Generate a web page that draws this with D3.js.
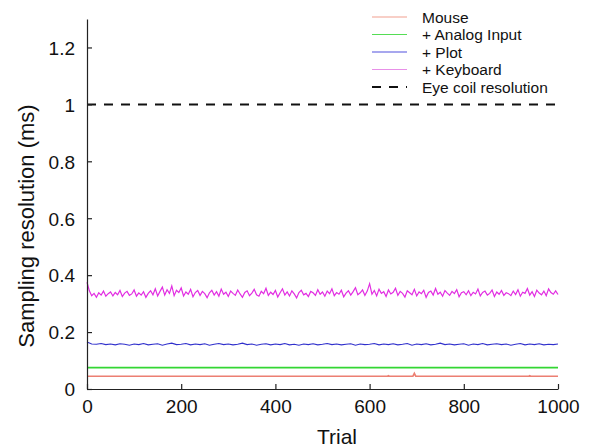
<!DOCTYPE html>
<html><head><meta charset="utf-8">
<script src="https://cdn.jsdelivr.net/npm/d3@7"></script>
<style>body{margin:0;background:#fff}svg{display:block}text{font-family:"Liberation Sans",Arial,sans-serif;fill:#111}</style>
</head><body><svg id="c" width="591" height="448"></svg>
<script>
// ---- data ----
const xTicks = [0, 200, 400, 600, 800, 1000];
const xTickLabels = ["0", "200", "400", "600", "800", "1000"];
const yTicks = [0, 0.2, 0.4, 0.6, 0.8, 1, 1.2];
const yTickLabels = ["0", "0.2", "0.4", "0.6", "0.8", "1", "1.2"];
const seriesNames = ["Mouse", "+ Analog Input", "+ Plot", "+ Keyboard", "Eye coil resolution"];
// Mouse: trial, value (flat with a few blips)
const mouseTrials = [0, 638, 640, 642, 692, 695, 698, 938, 940, 942, 1000];
const mouseValues = [0.045, 0.045, 0.047, 0.045, 0.045, 0.055, 0.045, 0.045, 0.047, 0.045, 0.045];
const analogTrials = [0, 1000];
const analogValues = [0.075, 0.075];
// Plot: every 10 trials
const plotValues = [0.165,0.158,0.157,0.160,0.156,0.158,0.155,0.159,0.157,0.154,0.158,0.156,0.160,0.155,0.157,0.159,0.154,0.158,0.161,0.156,
0.157,0.160,0.155,0.158,0.156,0.159,0.154,0.157,0.160,0.156,0.158,0.155,0.157,0.161,0.156,0.158,0.154,0.157,0.159,0.155,
0.158,0.156,0.160,0.155,0.157,0.154,0.158,0.156,0.159,0.155,0.157,0.160,0.156,0.158,0.155,0.157,0.159,0.154,0.158,0.156,
0.157,0.160,0.155,0.158,0.156,0.159,0.155,0.157,0.160,0.154,0.158,0.156,0.159,0.155,0.157,0.161,0.156,0.158,0.155,0.157,
0.159,0.154,0.158,0.156,0.160,0.155,0.157,0.159,0.156,0.158,0.154,0.157,0.160,0.155,0.158,0.156,0.159,0.155,0.157,0.156,0.158];
// Keyboard: every 5 trials (trial 0..1000)
const keyboardValues = [0.375,0.345,0.328,0.336,0.322,0.338,0.330,0.344,0.326,0.335,0.341,0.327,0.339,0.331,0.346,0.325,0.337,0.343,0.329,0.334,
0.348,0.326,0.338,0.330,0.342,0.322,0.336,0.345,0.331,0.352,0.327,0.343,0.358,0.330,0.349,0.336,0.362,0.328,0.347,0.339,
0.355,0.327,0.341,0.333,0.350,0.324,0.339,0.346,0.329,0.343,0.335,0.321,0.338,0.347,0.330,0.342,0.326,0.351,0.333,0.340,
0.325,0.344,0.336,0.329,0.348,0.334,0.322,0.339,0.345,0.328,0.337,0.350,0.331,0.326,0.343,0.335,0.354,0.329,0.340,0.332,
0.346,0.323,0.338,0.352,0.330,0.341,0.327,0.345,0.334,0.320,0.339,0.347,0.331,0.336,0.325,0.343,0.338,0.329,0.349,0.333,
0.341,0.326,0.344,0.335,0.352,0.328,0.339,0.333,0.347,0.324,0.337,0.345,0.330,0.342,0.356,0.331,0.338,0.348,0.329,0.344,
0.370,0.333,0.346,0.327,0.351,0.336,0.342,0.325,0.348,0.334,0.340,0.354,0.329,0.343,0.336,0.323,0.345,0.338,0.331,0.350,
0.327,0.341,0.335,0.347,0.322,0.339,0.344,0.330,0.353,0.333,0.340,0.326,0.346,0.337,0.329,0.343,0.335,0.349,0.324,0.338,
0.342,0.331,0.345,0.328,0.340,0.334,0.351,0.327,0.339,0.344,0.330,0.336,0.348,0.325,0.341,0.333,0.346,0.329,0.338,0.335,
0.328,0.344,0.332,0.349,0.326,0.340,0.336,0.353,0.330,0.342,0.325,0.347,0.337,0.331,0.344,0.328,0.352,0.339,0.333,0.345,0.332];
const eyeTrials = [0, 1000];
const eyeValues = [1, 1];
const colors = ["#ec7f72", "#33d633", "#3030cc", "#e22ee2", "#111"];
const legendColors = ["#f2a090", "#55dd55", "#5050dd", "#e890e8", "#111"];

// ---- chart ----
const svg = d3.select("#c");
const x = d3.scaleLinear().domain([0, 1000]).range([87, 558]);
const y = d3.scaleLinear().domain([0, 1.3]).range([389, 19]);

const line = d3.line().x(d => x(d[0])).y(d => y(d[1]));
const zip = (ts, vs) => ts.map((t, i) => [t, vs[i]]);
const plotData = plotValues.map((v, i) => [i * 10, v]);
const keyData = keyboardValues.map((v, i) => [i * 5, v]);

const g = svg.append("g");
g.append("path").datum(zip(mouseTrials, mouseValues)).attr("d", line)
  .attr("fill", "none").attr("stroke", colors[0]).attr("stroke-width", 1.6);
g.append("path").datum(zip(analogTrials, analogValues)).attr("d", line)
  .attr("fill", "none").attr("stroke", colors[1]).attr("stroke-width", 1.6);
g.append("path").datum(plotData).attr("d", line)
  .attr("fill", "none").attr("stroke", colors[2]).attr("stroke-width", 1.1);
g.append("path").datum(keyData).attr("d", line)
  .attr("fill", "none").attr("stroke", colors[3]).attr("stroke-width", 1.2);
g.append("path").datum(zip(eyeTrials, eyeValues)).attr("d", line)
  .attr("fill", "none").attr("stroke", colors[4]).attr("stroke-width", 2).attr("stroke-dasharray", "9,8");

// axes
const xAxis = svg.append("g").attr("transform", "translate(0,389)")
  .call(d3.axisBottom(x).tickValues(xTicks).tickFormat((d, i) => xTickLabels[i]).tickSizeInner(-5).tickSizeOuter(0).tickPadding(11));
const yAxis = svg.append("g").attr("transform", "translate(87,0)")
  .call(d3.axisLeft(y).tickValues(yTicks).tickFormat((d, i) => yTickLabels[i]).tickSizeInner(-5).tickSizeOuter(0).tickPadding(12));
[xAxis, yAxis].forEach(a => {
  a.select(".domain").attr("stroke", "#222").attr("stroke-width", 1.2);
  a.selectAll(".tick line").attr("stroke", "#222").attr("stroke-width", 1.2);
  a.selectAll("text").attr("font-size", 19).attr("font-family", "Liberation Sans, Arial, sans-serif").attr("fill", "#111");
});
yAxis.selectAll("text").attr("dy", "0.36em");

svg.append("text").attr("x", 337).attr("y", 444).attr("text-anchor", "middle")
  .attr("font-size", 21).text("Trial");
svg.append("text").attr("transform", "translate(34,226) rotate(-90)").attr("text-anchor", "middle")
  .attr("font-size", 22).text("Sampling resolution (ms)");

// legend
const leg = svg.append("g");
seriesNames.forEach((n, i) => {
  const yy = 17 + i * 17.5;
  leg.append("line").attr("x1", 372).attr("x2", 407).attr("y1", yy).attr("y2", yy)
    .attr("stroke", legendColors[i]).attr("stroke-width", i === 4 ? 2 : 1.2)
    .attr("stroke-dasharray", i === 4 ? "9,8" : null);
  leg.append("text").attr("x", 422).attr("y", yy + 5.5).attr("font-size", 15.5).text(n);
});
</script></body></html>
